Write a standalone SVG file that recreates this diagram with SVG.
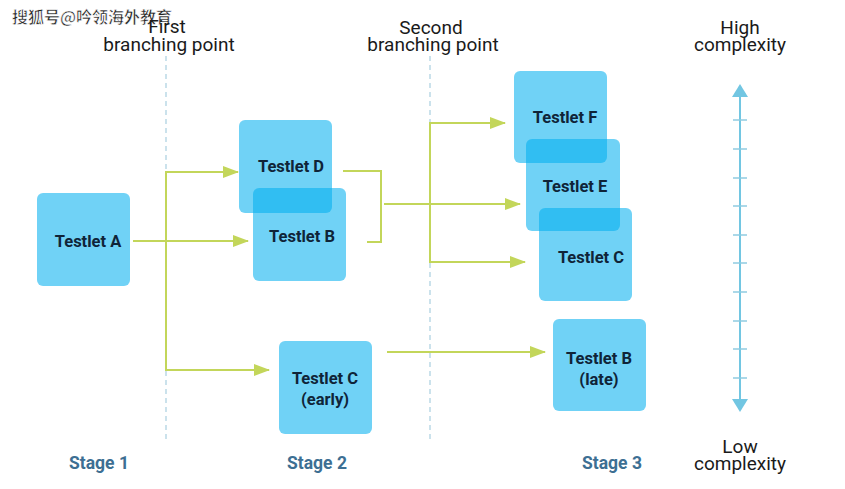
<svg xmlns="http://www.w3.org/2000/svg" width="845" height="489" viewBox="0 0 845 489">
<defs>
<style>
.box{fill:#00AEEF;fill-opacity:0.56}
.lbl{font-family:Roboto,"Liberation Sans",sans-serif;font-weight:bold;font-size:16.5px;fill:#0f2438;text-anchor:middle}
.hdr{font-family:Roboto,"Liberation Sans",sans-serif;font-size:19px;fill:#1a1a1a;text-anchor:middle}
.stg{font-family:Roboto,"Liberation Sans",sans-serif;font-weight:bold;font-size:17.5px;fill:#3d6f93;text-anchor:middle}
.div{stroke:#a9cfe0;stroke-width:1.2;stroke-dasharray:5,4;fill:none}
.con{stroke:#c3d65a;stroke-width:2;fill:none}
.axis{stroke:#72c6e2;stroke-width:2;fill:none}
</style>
<marker id="ah" markerWidth="16" markerHeight="12" refX="15" refY="6" orient="auto" markerUnits="userSpaceOnUse">
<path d="M0,0 L16,6 L0,12 Z" fill="#c3d65a"/>
</marker>
</defs>
<rect width="845" height="489" fill="#ffffff"/>

<text x="12" y="23" font-family="'Noto Sans CJK SC',sans-serif" font-size="16" font-weight="bold" fill="#222" stroke="#fff" stroke-width="0.6">搜狐号@吟领海外教育</text>

<g id="headers">
<text class="hdr" x="167" y="33">First</text>
<text class="hdr" x="169" y="51">branching point</text>
<text class="hdr" x="431" y="34">Second</text>
<text class="hdr" x="433" y="51">branching point</text>
<text class="hdr" x="740" y="34">High</text>
<text class="hdr" x="740" y="51">complexity</text>
<text class="hdr" x="740" y="453">Low</text>
<text class="hdr" x="740" y="470">complexity</text>
</g>

<g id="dividers">
<line class="div" x1="166" y1="56" x2="166" y2="440"/>
<line class="div" x1="430" y1="56" x2="430" y2="440"/>
</g>

<g id="connectors">
<line class="con" x1="133" y1="241" x2="248" y2="241" marker-end="url(#ah)"/>
<polyline class="con" points="238,172 166,172 166,370 268,370"/>
<line class="con" x1="166" y1="172" x2="238" y2="172" marker-end="url(#ah)"/>
<line class="con" x1="166" y1="370" x2="269" y2="370" marker-end="url(#ah)"/>
<polyline class="con" points="343,171 381,171 381,242 367,242"/>
<line class="con" x1="384" y1="204" x2="520" y2="204" marker-end="url(#ah)"/>
<polyline class="con" points="504,123 430,123 430,262 524,262"/>
<line class="con" x1="430" y1="123" x2="505" y2="123" marker-end="url(#ah)"/>
<line class="con" x1="430" y1="262" x2="525" y2="262" marker-end="url(#ah)"/>
<line class="con" x1="387" y1="352" x2="545" y2="352" marker-end="url(#ah)"/>
</g>

<g id="testlet-a"><rect class="box" x="37" y="193" width="93" height="93" rx="6"/><text class="lbl" x="88" y="247">Testlet A</text></g>
<g id="testlet-d"><rect class="box" x="239" y="120" width="93" height="93" rx="6"/><text class="lbl" x="291" y="172">Testlet D</text></g>
<g id="testlet-b"><rect class="box" x="253" y="188" width="93" height="93" rx="6"/><text class="lbl" x="302" y="242">Testlet B</text></g>
<g id="testlet-c-early"><rect class="box" x="279" y="341" width="93" height="93" rx="6"/><text class="lbl" x="325" y="384">Testlet C</text><text class="lbl" x="325" y="405">(early)</text></g>
<g id="testlet-f"><rect class="box" x="514" y="71" width="93" height="92" rx="6"/><text class="lbl" x="565" y="123">Testlet F</text></g>
<g id="testlet-e"><rect class="box" x="526" y="139" width="94" height="92" rx="6"/><text class="lbl" x="575" y="192">Testlet E</text></g>
<g id="testlet-c"><rect class="box" x="539" y="208" width="93" height="93" rx="6"/><text class="lbl" x="591" y="263">Testlet C</text></g>
<g id="testlet-b-late"><rect class="box" x="553" y="319" width="93" height="92" rx="6"/><text class="lbl" x="599" y="364">Testlet B</text><text class="lbl" x="599" y="385">(late)</text></g>

<g id="stages">
<text class="stg" x="99" y="469">Stage 1</text>
<text class="stg" x="317" y="469">Stage 2</text>
<text class="stg" x="612" y="469">Stage 3</text>
</g>

<g id="complexity-axis">
<line class="axis" x1="740" y1="95" x2="740" y2="401"/>
<path d="M740,84 L748,97 L732,97 Z" fill="#72c6e2"/>
<path d="M740,412 L748,399 L732,399 Z" fill="#72c6e2"/>
<g stroke="#8fcbe0" stroke-width="1.5">
<line x1="733" y1="120" x2="747" y2="120"/>
<line x1="733" y1="149" x2="747" y2="149"/>
<line x1="733" y1="178" x2="747" y2="178"/>
<line x1="733" y1="206" x2="747" y2="206"/>
<line x1="733" y1="235" x2="747" y2="235"/>
<line x1="733" y1="263" x2="747" y2="263"/>
<line x1="733" y1="292" x2="747" y2="292"/>
<line x1="733" y1="321" x2="747" y2="321"/>
<line x1="733" y1="349" x2="747" y2="349"/>
<line x1="733" y1="378" x2="747" y2="378"/>
</g>
</g>
</svg>
